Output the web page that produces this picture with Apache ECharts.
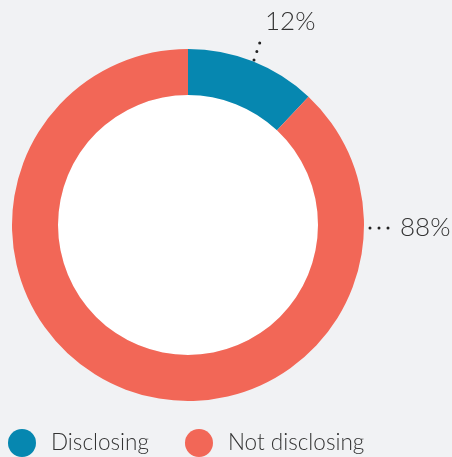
<!DOCTYPE html>
<html>
<head>
<meta charset="utf-8">
<script src="https://cdn.jsdelivr.net/npm/echarts@6/dist/echarts.min.js"></script>
<style>
html,body{margin:0;padding:0;background:#f1f2f4;}
#c{width:452px;height:457px;}
</style>
</head>
<body>
<div id="c"></div>
<script>
const categories = ['Disclosing', 'Not disclosing'];
const values = [12, 88];
const colors = ['#0687b0', '#f26757'];

const chart = echarts.init(document.getElementById('c'));
const labelSpots = [
  { x: 265, y: 22, line: [[254, 60], [262, 36]] },
  { x: 400, y: 228, line: [[370, 228], [390, 228]] }
];
chart.setOption({
  backgroundColor: '#f1f2f4',
  animation: false,
  legend: {
    data: categories,
    left: 8,
    top: 429,
    padding: 0,
    icon: 'circle',
    itemWidth: 28,
    itemHeight: 28,
    itemGap: 36,
    itemTextGap: 17,
    textStyle: { fontFamily: 'Lato', fontWeight: 300, fontSize: 22.5, color: '#333', padding: [0, 0, 0, 10] }
  },
  series: [
    {
      type: 'pie',
      silent: true,
      center: [188, 225],
      radius: [0, 130],
      label: { show: false },
      labelLine: { show: false },
      itemStyle: { color: '#ffffff' },
      data: [{ name: '_inner', value: 1 }]
    },
    {
      type: 'pie',
      center: [188, 225],
      radius: [130, 176],
      startAngle: 90,
      clockwise: true,
      data: categories.map((c, i) => ({ name: c, value: values[i], itemStyle: { color: colors[i] } })),
      label: {
        show: true,
        formatter: '{c}%',
        fontFamily: 'Lato',
        fontWeight: 300,
        fontSize: 26,
        color: '#333'
      },
      labelLine: {
        show: true,
        lineStyle: { color: '#222', width: 3, type: [0, 9], cap: 'round' }
      },
      labelLayout: function (p) {
        const s = labelSpots[p.dataIndex];
        return { x: s.x, y: s.y, align: 'left', verticalAlign: 'middle', labelLinePoints: s.line };
      }
    }
  ]
});
</script>
</body>
</html>
